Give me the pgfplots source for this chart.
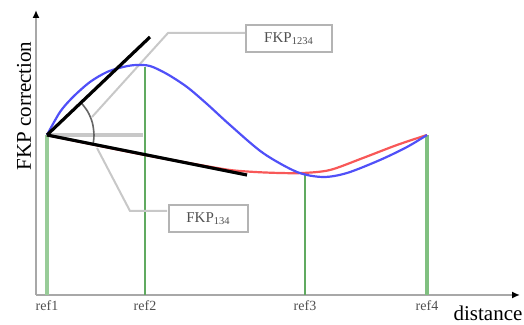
\documentclass[border=0pt]{standalone}
\usepackage{pgfplots}
\pgfplotsset{compat=1.18}
\usepackage{fontspec}
\setmainfont{Liberation Serif}
\usetikzlibrary{arrows.meta}
\definecolor{axgray}{HTML}{A8A8A8}
\definecolor{callgray}{HTML}{C8C8C8}
\definecolor{boxgray}{HTML}{B4B4B4}
\definecolor{txtgray}{HTML}{505050}
\definecolor{blueC}{HTML}{5050F8}
\definecolor{redC}{HTML}{F85858}
\definecolor{gA}{HTML}{98CC98}
\definecolor{gB}{HTML}{60AA60}
\definecolor{gD}{HTML}{80C080}
\begin{document}
\begin{tikzpicture}
\begin{axis}[
  scale only axis,
  width=242pt, height=142.5pt,
  xmin=36, xmax=520, ymin=0, ymax=285,
  axis lines=left,
  axis line style={draw=axgray, line width=1pt, -{Latex[black,length=4pt,width=3.5pt]}},
  xtick={47,145,305,427},
  xticklabels={ref1,ref2,ref3,ref4},
  ytick=\empty,
  major tick length=0pt,
  xticklabel style={font=\fontsize{7}{8}\selectfont, text=txtgray, yshift=0.5pt},
  clip=false,
]
% green reference lines
\addplot[gA, line width=2pt] coordinates {(47,0) (47,160)};
\addplot[gB, line width=1.2pt] coordinates {(145,0) (145,228)};
\addplot[gB, line width=1.2pt] coordinates {(305,0) (305,121)};
\addplot[gD, line width=1.8pt] coordinates {(427,0) (427,160)};
% callout lines
\addplot[callgray, line width=1pt] coordinates {(92,178) (168,262) (245,262)};
\addplot[callgray, line width=1pt] coordinates {(97,147) (130,84) (167,84)};
% grey horizontal
\addplot[callgray, line width=2pt] coordinates {(47,160) (143,160)};
% angle arc
\addplot[gray!80!black, line width=0.8pt, smooth] coordinates {(81.0,192.4) (87.7,183.5) (92.4,172.2) (94,160) (93.1,150.8)};
% red curve
\addplot[redC, line width=1.1pt, smooth] coordinates {
(47,160) (100,149) (150,139) (200,130) (230,125) (255,123) (280,122) (303,122)
(330,125) (363,137) (397,150) (427,160)};
% blue curve
\addplot[blueC, line width=1.1pt, smooth] coordinates {
(47,160) (60,183) (73,198) (90,213) (107,223) (123,228) (136,230) (150,229)
(167,221) (187,208) (207,191) (230,170) (263,142) (297,123) (323,118)
(347,122) (380,135) (407,148) (427,160)};
% black tangents
\addplot[black, line width=1.6pt] coordinates {(47,160) (150,258)};
\addplot[black, line width=1.6pt] coordinates {(47,160) (247,120)};
% boxes
\node[draw=boxgray, line width=1pt, fill=white, minimum width=43pt, minimum height=13.5pt, inner sep=0pt,
  text=txtgray, font=\fontsize{7.5}{8}\selectfont] at (axis cs:289,256.5) {FKP\textsubscript{1234}};
\node[draw=boxgray, line width=1pt, fill=white, minimum width=39.5pt, minimum height=13.5pt, inner sep=0pt,
  text=txtgray, font=\fontsize{7.5}{8}\selectfont] at (axis cs:208.5,76.5) {FKP\textsubscript{134}};
% labels
\node[rotate=90, font=\fontsize{10.5}{12}\selectfont] at (axis cs:24,189) {FKP correction};
\node[font=\fontsize{10.5}{12}\selectfont] at (axis cs:488,-18) {distance};
\coordinate (bbA) at (axis cs:0,-30);
\coordinate (bbB) at (axis cs:524,295);
\end{axis}
\pgfresetboundingbox
\path[use as bounding box] (bbA) rectangle (bbB);
\end{tikzpicture}
\end{document}
